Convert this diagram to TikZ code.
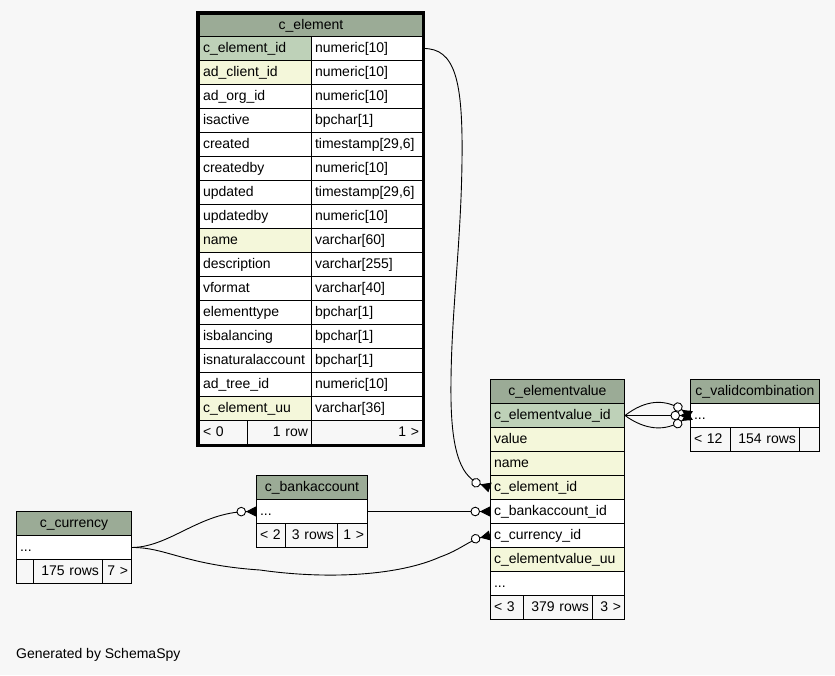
\documentclass[tikz,border=0pt]{standalone}
\usepackage{fontspec}
\setmainfont{Liberation Sans}
\usetikzlibrary{arrows.meta}
\definecolor{pagebg}{HTML}{F7F7F7}
\definecolor{hdrgreen}{HTML}{9BAB96}
\definecolor{pkgreen}{HTML}{BED1B8}
\definecolor{idxyellow}{HTML}{F4F7DA}
\tikzset{
    cell/.style={draw=black, line width=1pt, anchor=north west, minimum height=24pt,
        inner xsep=3.5pt, inner ysep=0pt, text height=10pt, text depth=3pt,
        font=\fontsize{14}{16}\selectfont, align=left},
    headcell/.style={cell, fill=hdrgreen, align=center},
    footcell/.style={cell, fill=pagebg},
    fkline/.style={line width=0.9pt,
        -{Circle[fill=white,length=9.5pt,width=9.5pt] Triangle[reversed,length=10pt,width=10pt]}}
}
\begin{document}
\begin{tikzpicture}[x=1pt,y=-1pt]
                \fill[pagebg] (0,0) rectangle (835,675);
                \useasboundingbox (0,0) rectangle (835,675);

                % c_element
                \node[headcell, text width=216pt, minimum height=22pt] (ce-h) at (199,14) {c\_element};
                \foreach \i/\cname/\ctype/\cfill in {
                    1/c\_element\_id/numeric[10]/pkgreen,
                    2/ad\_client\_id/numeric[10]/idxyellow,
                    3/ad\_org\_id/numeric[10]/white,
                    4/isactive/bpchar[1]/white,
                    5/created/{timestamp[29,6]}/white,
                    6/createdby/numeric[10]/white,
                    7/updated/{timestamp[29,6]}/white,
                    8/updatedby/numeric[10]/white,
                    9/name/varchar[60]/idxyellow,
                    10/description/varchar[255]/white,
                    11/vformat/varchar[40]/white,
                    12/elementtype/bpchar[1]/white,
                    13/isbalancing/bpchar[1]/white,
                    14/isnaturalaccount/bpchar[1]/white,
                    15/ad\_tree\_id/numeric[10]/white,
                    16/c\_element\_uu/varchar[36]/idxyellow}{
                    \node[cell, fill=\cfill, text width=105pt] (ce-n\i) at (199,{12+24*\i}) {\cname};
                    \node[cell, fill=white, text width=104pt] (ce-t\i) at (311,{12+24*\i}) {\ctype};
                }
                \node[footcell, text width=41pt] (ce-f1) at (199,420) {< 0};
                \node[footcell, text width=57pt, align=right] (ce-f2) at (247,420) {1 row};
                \node[footcell, text width=104pt, align=right] (ce-f3) at (311,420) {1 >};
                \draw[line width=3pt] (197.5,12.5) rectangle (423.5,445.5);

                % c_elementvalue
                \node[headcell, text width=127pt] (ev-h) at (490,379) {c\_elementvalue};
                \foreach \nm/\cname/\cfill/\k in {
                    id/c\_elementvalue\_id/pkgreen/0,
                    value/value/idxyellow/1,
                    name/name/idxyellow/2,
                    elem/c\_element\_id/idxyellow/3,
                    bank/c\_bankaccount\_id/white/4,
                    curr/c\_currency\_id/white/5,
                    uu/c\_elementvalue\_uu/idxyellow/6}{
                    \node[cell, fill=\cfill, text width=127pt] (ev-\nm) at (490,{403+24*\k}) {\cname};
                }
                \node[cell, fill=white, text width=127pt] (ev-more) at (490,571) {...};
                \node[footcell, text width=26pt] (ev-f1) at (490,595) {< 3};
                \node[footcell, text width=62pt, align=right] (ev-f2) at (523,595) {379 rows};
                \node[footcell, text width=25pt, align=right] (ev-f3) at (592,595) {3 >};

                % c_validcombination
                \node[headcell, text width=122pt] (vc-h) at (690,379) {c\_validcombination};
                \node[cell, fill=white, text width=122pt] (vc-row) at (690,403) {...};
                \node[footcell, text width=33pt] (vc-f1) at (690,427) {< 12};
                \node[footcell, text width=62pt, align=right] (vc-f2) at (730,427) {154 rows};
                \node[footcell, text width=13pt] (vc-f3) at (799,427) {};

                % c_bankaccount
                \node[headcell, text width=104pt] (cb-h) at (256,475) {c\_bankaccount};
                \node[cell, fill=white, text width=104pt] (cb-row) at (256,499) {...};
                \node[footcell, text width=22pt] (cb-f1) at (256,523) {< 2};
                \node[footcell, text width=45pt, align=right] (cb-f2) at (285,523) {3 rows};
                \node[footcell, text width=23pt, align=right] (cb-f3) at (337,523) {1 >};

                % c_currency
                \node[headcell, text width=108pt] (cc-h) at (16,511) {c\_currency};
                \node[cell, fill=white, text width=108pt] (cc-row) at (16,535) {...};
                \node[footcell, text width=10pt] (cc-f1) at (16,559) {};
                \node[footcell, text width=62pt, align=right] (cc-f2) at (33,559) {175 rows};
                \node[footcell, text width=22pt, align=right] (cc-f3) at (102,559) {7 >};

                % foreign keys
                \draw[fkline] (ce-t1.east) .. controls (455,48) and (463,80) .. (462,160)
                    .. controls (461,250) and (450,320) .. (451,400)
                    .. controls (452,455) and (462,478) .. (ev-elem.west);
                \draw[fkline] (cb-row.east) -- (ev-bank.west);
                \draw[fkline] (cc-row.east) .. controls (170,547) and (200,512) .. (cb-row.west);
                \draw[fkline] (cc-row.east) .. controls (165,547) and (185,565) .. (260,570)
                    .. controls (330,580) and (400,575) .. (440,557)
                    .. controls (460,550) and (470,540) .. (ev-curr.west);
                \draw[fkline] (ev-id.east) -- (vc-row.west);
                \draw[fkline] (ev-id.east) .. controls (645,400) and (665,398) .. (vc-row.west);
                \draw[fkline] (ev-id.east) .. controls (645,430) and (665,432) .. (vc-row.west);

                \node[anchor=west, inner sep=0pt, font=\fontsize{14}{16}\selectfont] (gen) at (16,655) {Generated by SchemaSpy};
            \end{tikzpicture}
\end{document}
